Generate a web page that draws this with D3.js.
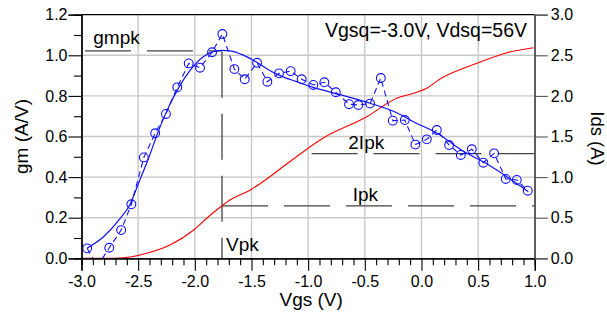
<!DOCTYPE html>
<html>
<head>
<meta charset="utf-8">
<script src="https://cdn.jsdelivr.net/npm/d3@7"></script>
<style>
  html, body { margin: 0; padding: 0; background: #fff; }
  svg { display: block; font-family: "Liberation Sans", Arial, sans-serif; }
</style>
</head>
<body>
<svg id="chart" width="607" height="332"></svg>
<script>
// Measured transconductance gm (A/V) versus gate voltage Vgs (V)
const gmVgs = [-2.95, -2.86, -2.755, -2.65, -2.56, -2.45, -2.35, -2.255, -2.155, -2.054,
               -1.954, -1.848, -1.757, -1.651, -1.56, -1.451, -1.36, -1.257, -1.154, -1.057,
               -0.954, -0.857, -0.756, -0.639, -0.557, -0.454, -0.359, -0.253, -0.147, -0.054,
               0.047, 0.135, 0.244, 0.347, 0.444, 0.546, 0.641, 0.744, 0.841, 0.938];
const gmMeas = [0.049, -0.04, 0.052, 0.139, 0.266, 0.497, 0.616, 0.711, 0.842, 0.96,
                0.939, 1.015, 1.105, 0.932, 0.882, 0.963, 0.87, 0.911, 0.922, 0.882,
                0.854, 0.867, 0.818, 0.759, 0.755, 0.762, 0.888, 0.678, 0.681, 0.56,
                0.586, 0.632, 0.558, 0.509, 0.537, 0.471, 0.517, 0.391, 0.386, 0.333];

// Smoothed gm fit
const fitVgs = [-2.951, -2.808, -2.66, -2.572, -2.5, -2.41, -2.331, -2.248, -2.146, -2.042,
                -1.925, -1.837, -1.748, -1.689, -1.572, -1.454, -1.351, -1.248, -1.101, -0.983,
                -0.718, -0.454, -0.218, -0.071, 0.135, 0.37, 0.576, 0.753, 0.943];
const fitGm = [0.05, 0.105, 0.195, 0.265, 0.365, 0.49, 0.612, 0.725, 0.837, 0.926,
               0.993, 1.018, 1.024, 1.022, 1.001, 0.966, 0.929, 0.9, 0.87, 0.847,
               0.806, 0.764, 0.717, 0.673, 0.617, 0.527, 0.466, 0.402, 0.328];

// Drain current Ids (A) versus Vgs
const idsVgs = [-3.0, -2.79, -2.63, -2.425, -2.22, -2.01, -1.895, -1.763, -1.69, -1.51,
                -1.365, -1.19, -1.07, -0.895, -0.483, -0.218, -0.072, 0.047, 0.164, 0.488,
                0.753, 0.988];
const idsVal = [0, 0, 0.007, 0.062, 0.164, 0.349, 0.493, 0.644, 0.718, 0.842,
                0.977, 1.161, 1.284, 1.457, 1.744, 1.97, 2.032, 2.094, 2.208, 2.401,
                2.532, 2.594];

// Peak markers
const vpk = -1.76;
const gmpk = 1.022;
const ipk = 0.645;
const twoIpkStart = -0.97;

// Axis ticks
const xTicks = [-3.0, -2.5, -2.0, -1.5, -1.0, -0.5, 0.0, 0.5, 1.0];
const yTicks = [0.0, 0.2, 0.4, 0.6, 0.8, 1.0, 1.2];
const y2Ticks = [0.0, 0.5, 1.0, 1.5, 2.0, 2.5, 3.0];

const note = "Vgsq=-3.0V, Vdsq=56V";

const svg = d3.select("#chart");
const L = 81.5, R = 534.8, T = 14.7, B = 258.3;
const x = d3.scaleLinear().domain([-3, 1]).range([L, R]);
const y = d3.scaleLinear().domain([0, 1.2]).range([B, T]);
const y2 = d3.scaleLinear().domain([0, 3]).range([B, T]);

svg.append("defs").append("clipPath").attr("id", "plot")
  .append("rect").attr("x", L).attr("y", T).attr("width", R - L).attr("height", B - T);

// grid
const grid = svg.append("g").attr("stroke", "#c8c8c8").attr("stroke-width", 1.4);
grid.selectAll("line.v").data(xTicks.slice(1, -1)).join("line")
  .attr("x1", d => x(d)).attr("x2", d => x(d)).attr("y1", T).attr("y2", B);
grid.selectAll("line.h").data(yTicks.slice(1, -1)).join("line")
  .attr("x1", L).attr("x2", R).attr("y1", d => y(d)).attr("y2", d => y(d));

// peak reference lines
const ref = svg.append("g").attr("stroke", "#444").attr("stroke-width", 1.3)
  .attr("stroke-dasharray", "46,16").attr("fill", "none");
ref.append("line").attr("x1", x(-2.97)).attr("x2", x(vpk)).attr("y1", y(gmpk)).attr("y2", y(gmpk));
ref.append("line").attr("x1", x(vpk)).attr("x2", x(vpk)).attr("y1", y(gmpk) + 1).attr("y2", B);
ref.append("line").attr("x1", x(vpk)).attr("x2", R).attr("y1", y2(ipk)).attr("y2", y2(ipk));
ref.append("line").attr("x1", x(twoIpkStart)).attr("x2", R).attr("y1", y2(2 * ipk)).attr("y2", y2(2 * ipk));

const plot = svg.append("g").attr("clip-path", "url(#plot)");

// Ids curve
plot.append("path")
  .datum(d3.zip(idsVgs, idsVal))
  .attr("fill", "none").attr("stroke", "#ff0000").attr("stroke-width", 1.1)
  .attr("d", d3.line().x(d => x(d[0])).y(d => y2(d[1])).curve(d3.curveMonotoneX));

// gm fit
plot.append("path")
  .datum(d3.zip(fitVgs, fitGm))
  .attr("fill", "none").attr("stroke", "#1010ff").attr("stroke-width", 1.2)
  .attr("d", d3.line().x(d => x(d[0])).y(d => y(d[1])).curve(d3.curveMonotoneX));

// measured gm
const meas = d3.zip(gmVgs, gmMeas);
plot.append("path")
  .datum(meas)
  .attr("fill", "none").attr("stroke", "#1010ff").attr("stroke-width", 1.1)
  .attr("stroke-dasharray", "6,4")
  .attr("d", d3.line().x(d => x(d[0])).y(d => y(d[1])));
plot.selectAll("circle").data(meas).join("circle")
  .attr("cx", d => x(d[0])).attr("cy", d => y(d[1])).attr("r", 4.4)
  .attr("fill", "none").attr("stroke", "#1010ff").attr("stroke-width", 1.1);

// frame
svg.append("line").attr("x1", L).attr("x2", R).attr("y1", T).attr("y2", T).attr("stroke", "#000").attr("stroke-width", 1.3);
svg.append("line").attr("x1", R).attr("x2", R).attr("y1", T).attr("y2", B).attr("stroke", "#555").attr("stroke-width", 1.3);

function styleAxis(g, color) {
  g.select(".domain").attr("stroke", color).attr("stroke-width", 1.3);
  g.selectAll(".tick line").attr("stroke", color).attr("stroke-width", 1.1);
  g.selectAll(".tick text").attr("fill", "#000").style("font-size", "16px")
    .style("font-family", '"Liberation Sans", Arial, sans-serif');
}

// one decimal, plain hyphen for negatives
const fmt = v => d3.format(".1f")(v).replace("\u2212", "-");
const minorY = d3.range(0.1, 1.2, 0.2);
const minorX = d3.range(-2.9, 1.0, 0.1).filter(v => Math.abs(v * 2 - Math.round(v * 2)) > 1e-6);

// minor ticks
svg.append("g").attr("transform", `translate(${L},0)`)
  .call(d3.axisLeft(y).tickValues(minorY).tickSize(7.5).tickFormat(""))
  .call(g => styleAxis(g, "#000"));
svg.append("g").attr("transform", `translate(0,${B})`)
  .call(d3.axisBottom(x).tickValues(minorX).tickSize(7).tickFormat(""))
  .call(g => styleAxis(g, "#000"));

// major axes
svg.append("g").attr("transform", `translate(${L},0)`)
  .call(d3.axisLeft(y).tickValues(yTicks).tickSize(13).tickPadding(1).tickFormat(fmt))
  .call(g => styleAxis(g, "#000"));
svg.append("g").attr("transform", `translate(0,${B})`)
  .call(d3.axisBottom(x).tickValues(xTicks).tickSize(12.5).tickPadding(5).tickFormat(fmt))
  .call(g => styleAxis(g, "#000"));
svg.append("g").attr("transform", `translate(${R},0)`)
  .call(d3.axisRight(y2).tickValues(y2Ticks).tickSize(13).tickPadding(3).tickFormat(fmt))
  .call(g => styleAxis(g, "#555"));

// axis titles
svg.append("text").attr("x", (L + R) / 2 + 3).attr("y", 306)
  .attr("text-anchor", "middle").style("font-size", "19px").text("Vgs (V)");
svg.append("text").attr("transform", `translate(27.5,${(T + B) / 2}) rotate(-90)`)
  .attr("text-anchor", "middle").style("font-size", "19px").text("gm (A/V)");
svg.append("text").attr("transform", `translate(591,${(T + B) / 2 + 2}) rotate(90)`)
  .attr("text-anchor", "middle").style("font-size", "18.5px").text("Ids (A)");

// annotations
svg.append("text").attr("x", 527).attr("y", 36.7).attr("text-anchor", "end")
  .style("font-size", "19.5px").text(note);
svg.append("text").attr("x", 93.3).attr("y", y(gmpk) - 7).style("font-size", "19px").text("gmpk");
svg.append("text").attr("x", 348.3).attr("y", y2(2 * ipk) - 4.5).style("font-size", "19px").text("2Ipk");
svg.append("text").attr("x", 352.7).attr("y", y2(ipk) - 4.5).style("font-size", "19px").text("Ipk");
svg.append("text").attr("x", x(vpk) + 4).attr("y", 250.7).style("font-size", "19px").text("Vpk");
</script>
</body>
</html>
